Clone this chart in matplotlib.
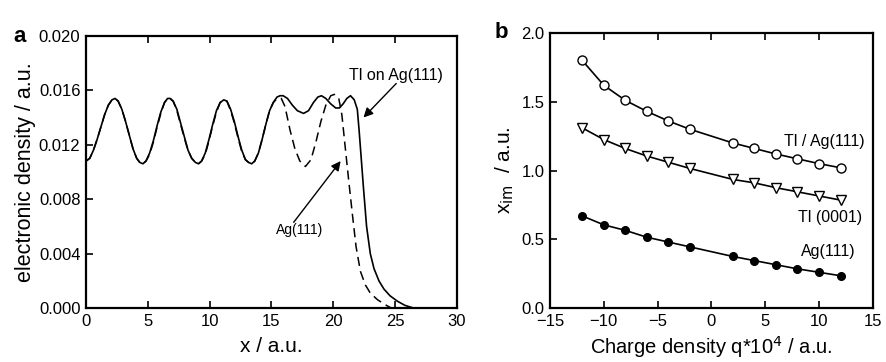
import matplotlib
matplotlib.use('Agg')
import matplotlib.pyplot as plt

plt.rcParams['font.family'] = ['Liberation Sans', 'DejaVu Sans']

# Panel a: electronic density profiles
x_tl = [0.0, 0.3, 0.6, 0.9, 1.2, 1.5, 1.8, 2.1, 2.35, 2.6, 2.9, 3.2, 3.5, 3.8, 4.1, 4.35, 4.6,
        4.85, 5.15, 5.45, 5.75, 6.05, 6.35, 6.6, 6.8, 7.05, 7.35, 7.65, 7.95, 8.25, 8.55, 8.85, 9.1,
        9.35, 9.65, 9.95, 10.25, 10.55, 10.85, 11.15, 11.4, 11.7, 12.0, 12.3, 12.6, 12.9, 13.15, 13.4,
        13.65, 13.95, 14.25, 14.55, 14.85, 15.15, 15.45, 15.7, 15.95, 16.3, 16.7, 17.1, 17.6,
        18.0, 18.4, 18.75, 19.05, 19.4, 19.8, 20.2, 20.5, 20.8, 21.1, 21.4, 21.7, 21.95, 22.1,
        22.25, 22.45, 22.7, 23.0, 23.3, 23.7, 24.1, 24.6, 25.2, 25.8, 26.5, 30.0]
y_tl = [0.0108, 0.0110, 0.0116, 0.0124, 0.0133, 0.0142, 0.0149, 0.0153, 0.0154, 0.0152, 0.0146, 0.0137,
        0.0127, 0.0117, 0.0110, 0.0107, 0.0106,
        0.0108, 0.0114, 0.0123, 0.0134, 0.0144, 0.0151, 0.0154, 0.0154, 0.0152, 0.0146, 0.0136, 0.0126,
        0.0116, 0.0110, 0.0107, 0.0106,
        0.0108, 0.0114, 0.0124, 0.0135, 0.0145, 0.0151, 0.0153, 0.0152, 0.0146, 0.0137, 0.0126, 0.0116,
        0.0109, 0.0107, 0.0106,
        0.0108, 0.0114, 0.0124, 0.0135, 0.0145, 0.0151, 0.0155, 0.0156, 0.0156, 0.0154, 0.0149, 0.0145,
        0.0143, 0.0145, 0.0151, 0.0155, 0.0156, 0.0154, 0.0150, 0.0147, 0.0147, 0.0150, 0.0154,
        0.0156, 0.0153, 0.0146, 0.0130, 0.0112, 0.0088, 0.0060, 0.0040, 0.0029, 0.0020, 0.0014,
        0.0009, 0.0005, 0.0002, 0.0, 0.0]

x_ag = [0.0, 0.3, 0.6, 0.9, 1.2, 1.5, 1.8, 2.1, 2.35, 2.6, 2.9, 3.2, 3.5, 3.8, 4.1, 4.35, 4.6,
        4.85, 5.15, 5.45, 5.75, 6.05, 6.35, 6.6, 6.8, 7.05, 7.35, 7.65, 7.95, 8.25, 8.55, 8.85, 9.1,
        9.35, 9.65, 9.95, 10.25, 10.55, 10.85, 11.15, 11.4, 11.7, 12.0, 12.3, 12.6, 12.9, 13.15, 13.4,
        13.65, 13.95, 14.25, 14.55, 14.85, 15.15, 15.45, 15.8, 16.1, 16.5, 16.9, 17.3, 17.75,
        18.2, 18.6, 19.0, 19.4, 19.8, 20.1, 20.45, 20.7, 20.95, 21.25, 21.55, 21.85, 22.2, 22.6,
        23.0, 23.6, 24.3, 24.7]
y_ag = [0.0108, 0.0110, 0.0116, 0.0124, 0.0133, 0.0142, 0.0149, 0.0153, 0.0154, 0.0152, 0.0146, 0.0137,
        0.0127, 0.0117, 0.0110, 0.0107, 0.0106,
        0.0108, 0.0113, 0.0122, 0.0133, 0.0143, 0.0151, 0.0154, 0.0154, 0.0152, 0.0145, 0.0135, 0.0125,
        0.0116, 0.0110, 0.0107, 0.0106,
        0.0108, 0.0113, 0.0123, 0.0134, 0.0144, 0.0151, 0.0153, 0.0152, 0.0145, 0.0136, 0.0125, 0.0115,
        0.0109, 0.0107, 0.0106,
        0.0108, 0.0114, 0.0124, 0.0135, 0.0145, 0.0151, 0.0154, 0.0154, 0.0148, 0.0131, 0.0117,
        0.0108, 0.0104, 0.0109, 0.0122, 0.0137, 0.0149, 0.0156, 0.0157, 0.0154, 0.0142, 0.0120,
        0.0094, 0.0069, 0.0045, 0.0027, 0.0017, 0.0011, 0.0006, 0.0002, 0.0]

# Panel b: image plane position vs charge density
q = [-12, -10, -8, -6, -4, -2, 2, 4, 6, 8, 10, 12]
xim_tl_ag = [1.80, 1.62, 1.51, 1.43, 1.36, 1.30, 1.20, 1.16, 1.12, 1.085, 1.05, 1.02]
xim_tl = [1.31, 1.225, 1.16, 1.105, 1.06, 1.015, 0.935, 0.91, 0.875, 0.845, 0.815, 0.785]
xim_ag = [0.67, 0.605, 0.565, 0.515, 0.48, 0.445, 0.375, 0.345, 0.315, 0.285, 0.26, 0.235]

fig = plt.figure(figsize=(8.87, 3.62), dpi=100)
ax1 = fig.add_axes([0.097, 0.149, 0.418, 0.752])
ax2 = fig.add_axes([0.620, 0.149, 0.364, 0.760])

for ax in (ax1, ax2):
    for s in ax.spines.values():
        s.set_linewidth(1.6)
    ax.tick_params(direction='in', length=5, width=1.2, labelsize=12, top=True, pad=4)

# ---- a ----
ax1.plot(x_tl, y_tl, color='black', lw=1.2)
ax1.plot(x_ag, y_ag, color='black', lw=1.1, dashes=(6, 3.5))
ax1.set_xlim(0, 30)
ax1.set_ylim(0, 0.020)
ax1.set_xticks([0, 5, 10, 15, 20, 25, 30])
ax1.set_yticks([0.0, 0.004, 0.008, 0.012, 0.016, 0.020])
ax1.set_yticklabels(['0.000', '0.004', '0.008', '0.012', '0.016', '0.020'])
ax1.set_xlabel('x / a.u.', fontsize=15, labelpad=6)
ax1.set_ylabel('electronic density / a.u.', fontsize=15.5, labelpad=2)

arrow = dict(arrowstyle='-|>', color='black', lw=1.0, mutation_scale=14, shrinkA=0, shrinkB=0)
ax1.annotate('', xy=(22.45, 0.0140), xytext=(25.1, 0.0165), arrowprops=arrow)
ax1.text(25.1, 0.0171, 'Tl on Ag(111)', fontsize=11.5, ha='center', va='center')
ax1.annotate('', xy=(20.6, 0.0108), xytext=(16.8, 0.0063), arrowprops=arrow)
ax1.text(17.3, 0.0057, 'Ag(111)', fontsize=10, ha='center', va='center')

# ---- b ----
ax2.plot(q, xim_tl_ag, '-o', color='black', lw=1.2, ms=6.5, mfc='white', mec='black', mew=1.0)
ax2.plot(q, xim_tl, '-v', color='black', lw=1.2, ms=6.5, mfc='white', mec='black', mew=1.0)
ax2.plot(q, xim_ag, '-o', color='black', lw=1.2, ms=5.5, mfc='black', mec='black')
ax2.set_xlim(-15, 15)
ax2.set_ylim(0, 2.0)
ax2.set_xticks([-15, -10, -5, 0, 5, 10, 15])
ax2.set_xticklabels(['\u221215', '\u221210', '\u22125', '0', '5', '10', '15'])
ax2.set_yticks([0.0, 0.5, 1.0, 1.5, 2.0])
ax2.set_yticklabels(['0.0', '0.5', '1.0', '1.5', '2.0'])
ax2.set_xlabel('Charge density q*10$^4$ / a.u.', fontsize=14.5, labelpad=4)
ax2.set_ylabel(r'x$_{\rm im}$  / a.u.', fontsize=15, labelpad=4)
ax2.text(10.5, 1.21, 'Tl / Ag(111)', fontsize=11.5, ha='center', va='center')
ax2.text(11.0, 0.66, 'Tl (0001)', fontsize=11.5, ha='center', va='center')
ax2.text(10.85, 0.41, 'Ag(111)', fontsize=11.5, ha='center', va='center')

fig.text(0.015, 0.885, 'a', fontsize=16, fontweight='bold')
fig.text(0.558, 0.895, 'b', fontsize=16, fontweight='bold')

fig.savefig('out.png', dpi=100)
